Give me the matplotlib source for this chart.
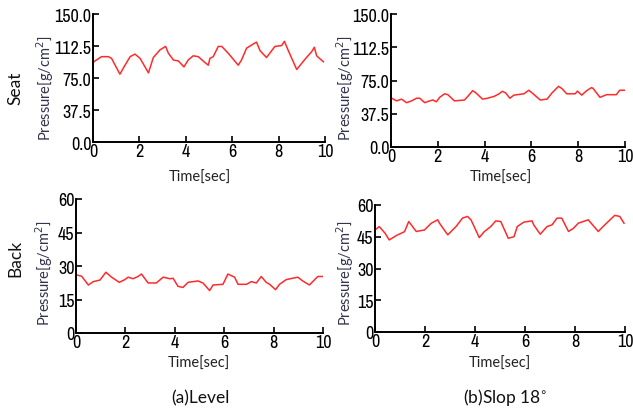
import numpy as np
import matplotlib
matplotlib.use("Agg")
import matplotlib.pyplot as plt
from matplotlib import font_manager

# ---- data (time in sec, pressure in g/cm^2) ----
t_seat_level = [0, 0.03, 0.37, 0.66, 0.80, 1.16, 1.38, 1.60, 1.81, 2.03, 2.39, 2.60, 2.89,
                3.13, 3.25, 3.47, 3.68, 3.92, 4.10, 4.32, 4.54, 4.83, 4.97, 5.04, 5.18,
                5.40, 5.55, 5.83, 6.26, 6.40, 6.62, 6.98, 7.05, 7.20, 7.48, 7.84, 8.13,
                8.25, 8.42, 8.78, 9.14, 9.43, 9.54, 9.64, 9.93]
p_seat_level = [92, 94, 100, 100, 98, 79.5, 90, 100, 103, 98, 81, 99, 108,
                112, 104, 96, 95, 88, 96, 101, 100, 93, 90, 98, 100,
                112, 112, 104, 90, 96, 110, 116, 117, 107, 99, 112, 113,
                118, 107, 85, 97, 106, 111, 101, 94]

t_seat_slope = [0.03, 0.24, 0.45, 0.66, 0.88, 1.09, 1.23, 1.44, 1.65, 1.79, 1.94, 2.08,
                2.29, 2.43, 2.71, 3.14, 3.28, 3.49, 3.63, 3.91, 4.12, 4.40, 4.62, 4.76,
                4.90, 5.08, 5.25, 5.68, 5.89, 6.03, 6.38, 6.67, 6.88, 7.16, 7.30, 7.51,
                7.87, 7.97, 8.15, 8.36, 8.57, 8.64, 8.93, 9.21, 9.63, 9.77, 9.99]
p_seat_slope = [55, 52, 54, 50, 52, 55, 55, 50, 52, 53, 51, 56,
                60, 59, 52, 53, 57, 63.5, 61, 54, 55, 57, 60, 62.8,
                61, 55, 58.5, 60, 64, 61, 53, 54, 61, 68.4, 66, 60,
                60, 63, 58.5, 63.5, 67, 66, 56, 59, 59, 64, 64]

t_back_level = [0.03, 0.23, 0.50, 0.70, 0.97, 1.21, 1.44, 1.75, 1.98, 2.11, 2.31, 2.51,
                2.65, 2.92, 3.25, 3.53, 3.80, 3.93, 4.13, 4.33, 4.54, 4.94, 5.14, 5.41,
                5.55, 5.95, 6.15, 6.42, 6.56, 6.90, 7.10, 7.30, 7.50, 7.70, 7.84, 8.08,
                8.24, 8.51, 8.98, 9.18, 9.45, 9.79, 9.99]
p_back_level = [26, 25.4, 21.5, 23, 23.7, 27.2, 25, 22.7, 23.9, 25, 24.3, 25.3,
                26.4, 22.4, 22.4, 25, 24.3, 24.5, 20.9, 20.4, 22.7, 23.3, 22.4, 19,
                21.5, 21.8, 26.4, 25, 21.8, 21.8, 23, 22.4, 25.3, 22.7, 21.8, 19.4,
                21.8, 23.9, 25, 23.3, 21.5, 25.3, 25.3]

t_back_slope = [0, 0.17, 0.40, 0.57, 0.86, 1.18, 1.35, 1.65, 1.98, 2.25, 2.51, 2.58,
                2.91, 3.24, 3.50, 3.70, 3.84, 4.17, 4.37, 4.63, 4.83, 5.03, 5.33, 5.56,
                5.69, 5.95, 6.28, 6.35, 6.61, 6.88, 7.08, 7.28, 7.47, 7.74, 7.94, 8.13,
                8.53, 8.93, 9.19, 9.59, 9.79, 9.96]
p_back_slope = [48.2, 49.8, 46.7, 43.5, 45.6, 47.4, 52.2, 47.5, 48.2, 51.4, 53, 51.4,
                45.9, 49.8, 53.8, 54.6, 53, 44.6, 47.4, 49.8, 52.5, 52.2, 44.3, 45,
                49.8, 51.9, 52.5, 50.6, 46.2, 49.8, 50.6, 53.8, 53.8, 47.5, 49, 51.4,
                53, 47.5, 50.6, 55.1, 54.6, 51.4]

x_ticks = [0, 2, 4, 6, 8, 10]
seat_ticks = [0, 37.5, 75, 112.5, 150]
seat_labels = ["0.0", "37.5", "75.0", "112.5", "150.0"]
back_ticks = [0, 15, 30, 45, 60]
back_labels = ["0", "15", "30", "45", "60"]

W, H = 633, 414
fig = plt.figure(figsize=(W / 100, H / 100), dpi=100)

# look for a narrow face for the tick numbers, else use a plain sans at a smaller size
narrow = None
for f in font_manager.fontManager.ttflist:
    if "Narrow" in f.name or "Condensed" in f.name:
        narrow = f.name
        break
if narrow:
    num_font, num_size = [narrow, "DejaVu Sans"], 13
else:
    num_font, num_size = ["Liberation Sans", "DejaVu Sans"], 10
txt_font = ["Lato", "DejaVu Sans"]
lab_col = "#33334d"


def px_axes(l, r, t, b):
    return fig.add_axes([l / W, 1 - b / H, (r - l) / W, (b - t) / H])


def panel(box, t, p, yticks, ylabels, ylab_pos, xlab_pos):
    ax = px_axes(*box)
    ax.plot(t, p, color="#ff2a2a", lw=1.1)
    ax.set_xlim(0, 10)
    ax.set_ylim(yticks[0], yticks[-1])
    ax.set_xticks(x_ticks)
    ax.set_yticks(yticks)
    ax.set_yticklabels(ylabels)
    for s in ["top", "right"]:
        ax.spines[s].set_visible(False)
    for s in ["left", "bottom"]:
        ax.spines[s].set_linewidth(1.4)
    ax.tick_params(direction="in", length=4, width=1.2, pad=1, labelsize=num_size)
    for lb in ax.get_xticklabels() + ax.get_yticklabels():
        lb.set_family(num_font)
    fig.text(ylab_pos[0] / W, 1 - ylab_pos[1] / H, r"Pressure[g/cm$^2$]", rotation=90,
             ha="center", va="center", fontsize=10.5, color=lab_col, family=txt_font)
    fig.text(xlab_pos[0] / W, 1 - xlab_pos[1] / H, "Time[sec]",
             ha="center", va="center", fontsize=10.5, color="#222222", family=txt_font)
    return ax


panel((93, 325, 15, 143), t_seat_level, p_seat_level, seat_ticks, seat_labels, (45, 88), (200, 178))
panel((391, 625, 15, 148), t_seat_slope, p_seat_slope, seat_ticks, seat_labels, (345, 88), (501, 178))
panel((76, 323, 200, 334), t_back_level, p_back_level, back_ticks, back_labels, (44, 273), (199, 364))
panel((375, 625, 206, 333), t_back_slope, p_back_slope, back_ticks, back_labels, (345, 273), (500, 364))

fig.text(15 / W, 1 - 88 / H, "Seat", rotation=90, ha="center", va="center",
         fontsize=12.5, family=txt_font, color="#111111")
fig.text(15 / W, 1 - 258 / H, "Back", rotation=90, ha="center", va="center",
         fontsize=12.5, family=txt_font, color="#111111")
fig.text(200 / W, 1 - 398 / H, "(a)Level", ha="center", va="center",
         fontsize=12.5, family=txt_font, color="#111111")
fig.text(505 / W, 1 - 398 / H, r"(b)Slop 18$^{\circ}$", ha="center", va="center",
         fontsize=12.5, family=txt_font, color="#111111")

fig.savefig("out.png", dpi=100)
